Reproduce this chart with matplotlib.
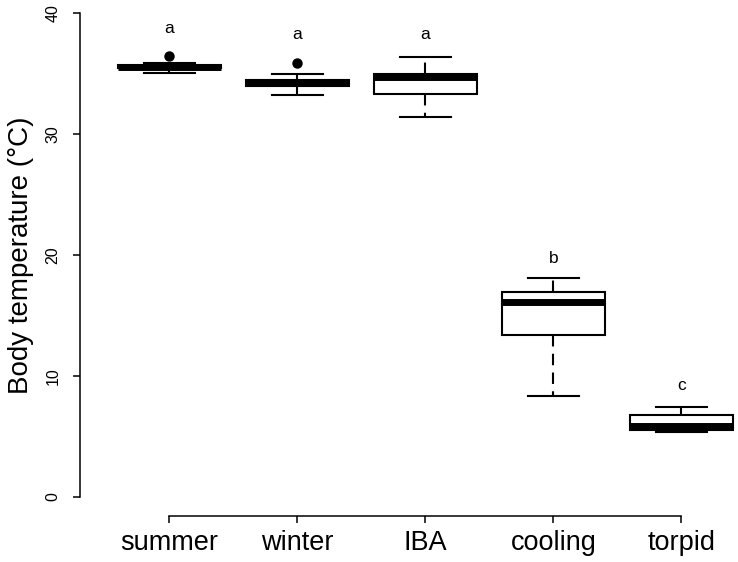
import matplotlib
matplotlib.use("Agg")
import matplotlib.pyplot as plt

# ---- data ----
categories = ["summer", "winter", "IBA", "cooling", "torpid"]
whislo = [35.02, 33.22, 31.43, 8.35, 5.35]
q1 = [35.42, 33.99, 33.32, 13.40, 5.55]
med = [35.55, 34.21, 34.72, 16.14, 5.87]
q3 = [35.66, 34.44, 34.93, 16.92, 6.80]
whishi = [35.84, 34.93, 36.34, 18.07, 7.46]
fliers = [[36.45], [35.89], [], [], []]
letters = ["a", "a", "a", "b", "c"]
letter_y = [38.75, 38.2, 38.2, 19.75, 9.25]
y_ticks = [0, 10, 20, 30, 40]
y_label = "Body temperature (°C)"

plt.rcParams['font.family'] = ['Liberation Sans', 'DejaVu Sans']

W, H = 738, 562
fig = plt.figure(figsize=(W / 100, H / 100), dpi=100)

# axes region (R-style plot region, partly outside the cropped image)
x0_px, x1_px = 79.9, 771.0
ytop_px, ybot_px = -6.4, 516.4
ax = fig.add_axes([x0_px / W, (H - ybot_px) / H,
                   (x1_px - x0_px) / W, (ybot_px - ytop_px) / H])
ax.set_xlim(0.3, 5.7)
ax.set_ylim(-1.6, 41.6)

stats = []
for i, c in enumerate(categories):
    stats.append(dict(label=c, whislo=whislo[i], q1=q1[i], med=med[i],
                      q3=q3[i], whishi=whishi[i], fliers=fliers[i]))

lw = 1.5
ax.bxp(stats, positions=range(1, len(categories) + 1), widths=0.8,
       patch_artist=True, manage_ticks=False,
       boxprops=dict(facecolor="white", edgecolor="black", linewidth=lw),
       medianprops=dict(color="black", linewidth=5.0, solid_capstyle="butt"),
       whiskerprops=dict(color="black", linewidth=lw, linestyle=(0, (5.5, 3.5))),
       capprops=dict(color="black", linewidth=lw),
       flierprops=dict(marker="o", markerfacecolor="black",
                       markeredgecolor="black", markersize=6.5))

for i, (t, yv) in enumerate(zip(letters, letter_y)):
    ax.text(i + 1, yv, t, ha="center", va="center", fontsize=12.5, color="black")

# R-like axes
for s in ["top", "right"]:
    ax.spines[s].set_visible(False)
ax.spines["left"].set_bounds(0, 40)
ax.spines["bottom"].set_bounds(1, 5)
ax.spines["left"].set_linewidth(1.1)
ax.spines["bottom"].set_linewidth(1.1)

ax.set_xticks(range(1, len(categories) + 1))
ax.set_xticklabels(categories, fontsize=19.5)
ax.set_yticks(y_ticks)
ax.set_yticklabels([str(v) for v in y_ticks], fontsize=11.5,
                   rotation=90, va="center")
ax.tick_params(axis="both", direction="out", length=5, width=1.1, colors="black")
ax.tick_params(axis="x", pad=5)
ax.tick_params(axis="y", pad=9)
ax.set_ylabel(y_label, fontsize=20, labelpad=8)

fig.savefig("out.png", dpi=100)
